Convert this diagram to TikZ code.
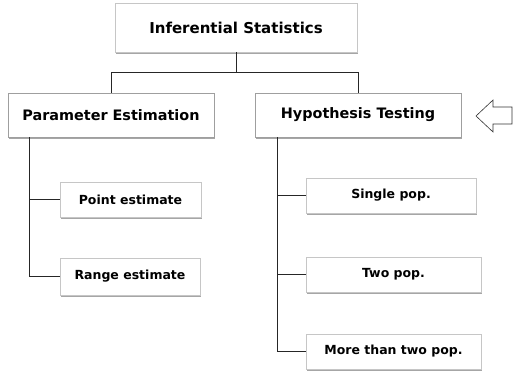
\documentclass[tikz,border=0pt]{standalone}
\usepackage{fontspec}
\setmainfont{DejaVu Sans}
\usetikzlibrary{shadows}
\begin{document}
\begin{tikzpicture}[x=1pt,y=-1pt,
  box/.style={rectangle, draw=gray!45, line width=0.6pt, fill=white, inner sep=0pt,
    font=\bfseries\fontsize{12.5}{14}\selectfont,
    drop shadow={shadow xshift=1pt, shadow yshift=-1.5pt, fill=gray!70, opacity=1}},
  mainbox/.style={box, draw=gray!75, line width=0.9pt, font=\bfseries\fontsize{14.4}{16}\selectfont},
  topbox/.style={box, font=\bfseries\fontsize{15}{17}\selectfont},
  conn/.style={draw=black!85, line width=0.7pt}]
\useasboundingbox (0,0) rectangle (513,370);
\node[topbox, minimum width=242pt, minimum height=49pt] (top) at (236,27.5) {Inferential Statistics};
\node[mainbox, minimum width=206pt, minimum height=44pt] (param) at (111,115) {Parameter Estimation};
\node[mainbox, minimum width=206pt, minimum height=44pt] (hyp) at (358,115) {Hypothesis Testing};
\node[box, minimum width=141pt, minimum height=35pt] (point) at (130.5,199.5) {Point estimate};
\node[box, minimum width=140pt, minimum height=37pt] (range) at (130,276.5) {Range estimate};
\node[box, minimum width=170pt, minimum height=35pt] (single) at (391,195.5) {Single pop.};
\node[box, minimum width=175pt, minimum height=35pt] (two) at (393.5,274.5) {Two pop.};
\node[box, minimum width=175pt, minimum height=35pt] (more) at (393.5,351.5) {More than two pop.};
\coordinate (bus) at (235,72);
\coordinate (pl) at (29,0);
\coordinate (hl) at (277,0);
\draw[conn] (top.south) -- (top.south |- bus);
\draw[conn] (param.north) -- (param.north |- bus) -- (hyp.north |- bus) -- (hyp.north);
\draw[conn] (param.south -| pl) |- (point.west);
\draw[conn] (param.south -| pl) |- (range.west);
\draw[conn] (hyp.south -| hl) |- (single.west);
\draw[conn] (hyp.south -| hl) |- (two.west);
\draw[conn] (hyp.south -| hl) |- (more.west);
\draw[black!80, line width=0.6pt, fill=white] (476,116) -- (493,100) -- (493,107) -- (512,107) -- (512,124) -- (493,124) -- (493,132) -- cycle;
\end{tikzpicture}
\end{document}
